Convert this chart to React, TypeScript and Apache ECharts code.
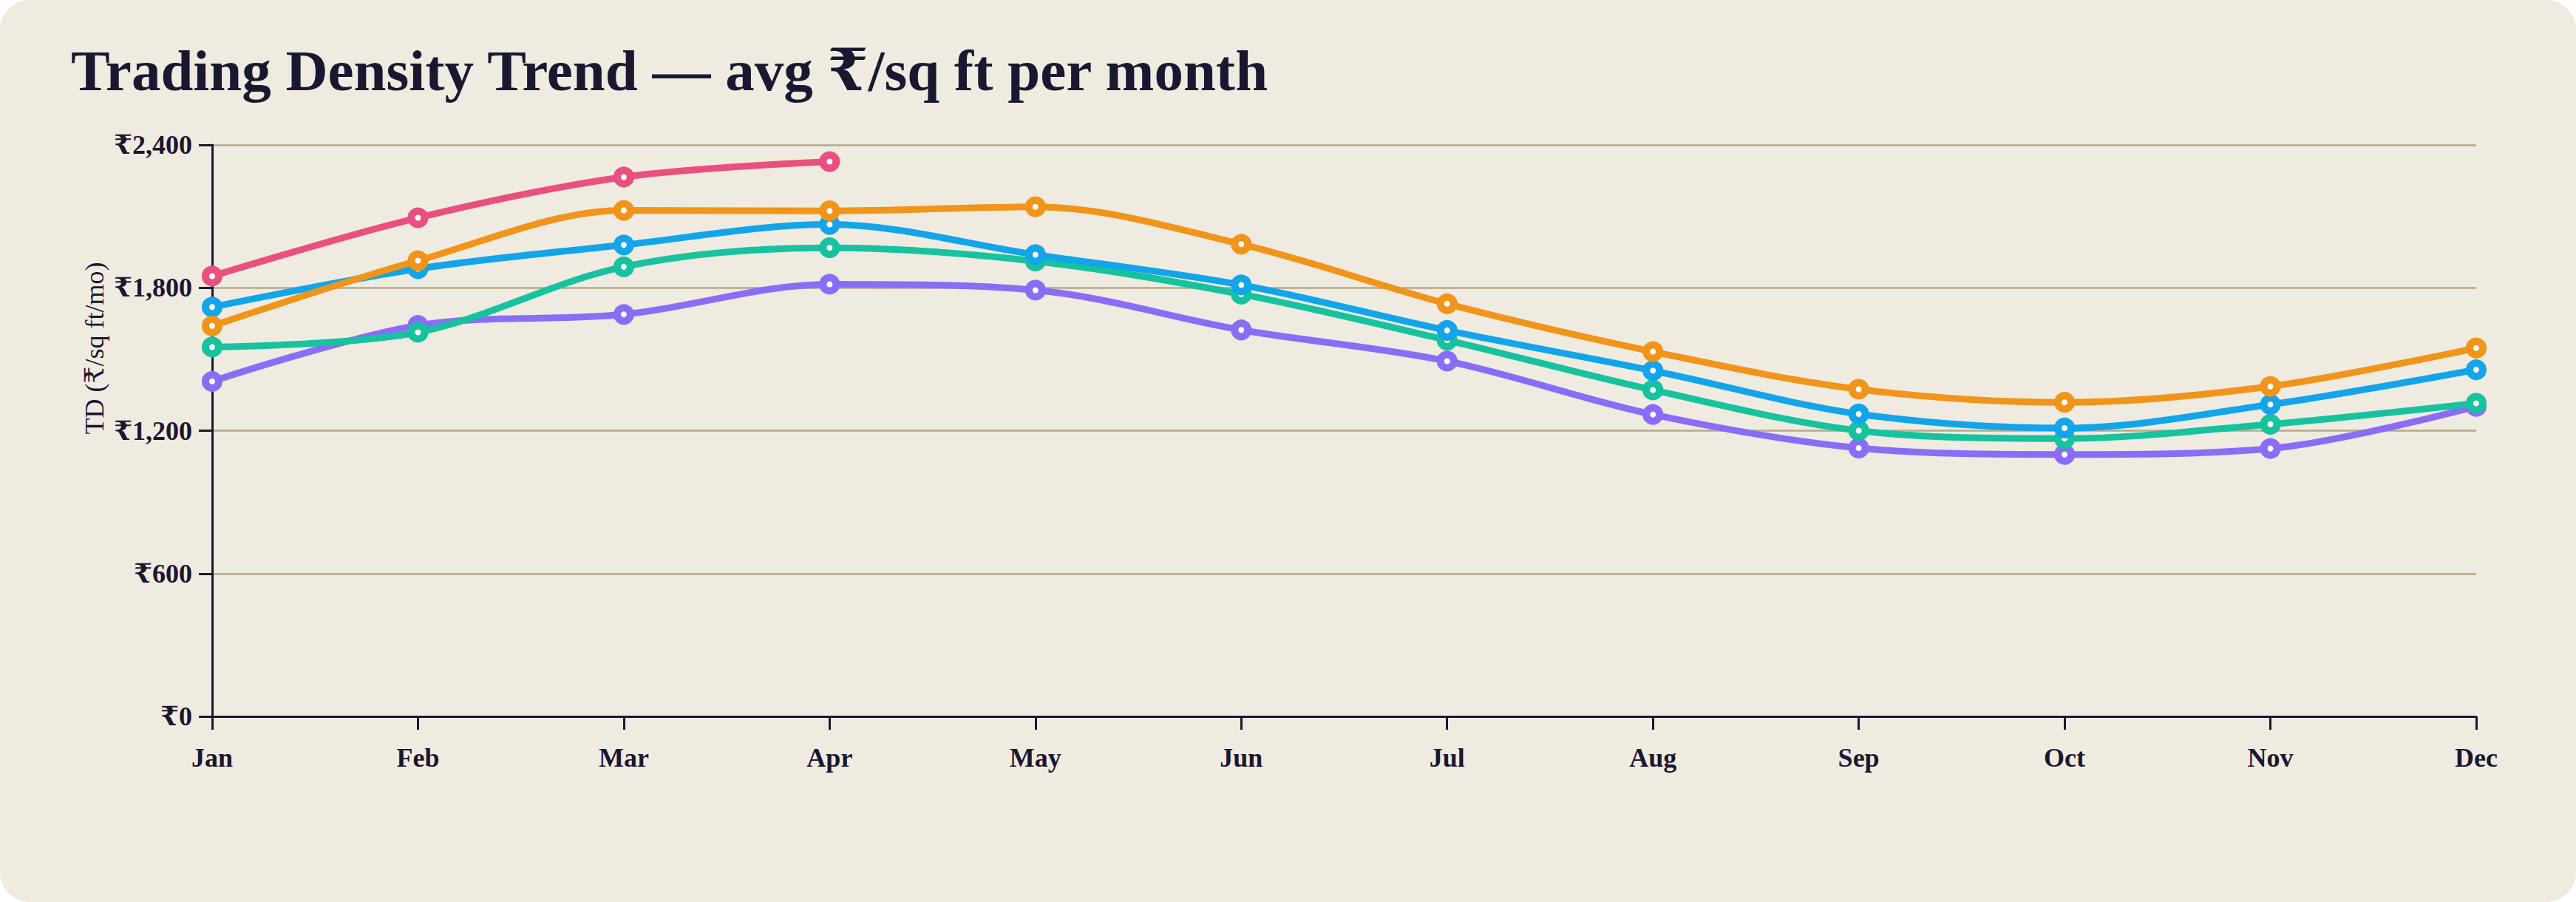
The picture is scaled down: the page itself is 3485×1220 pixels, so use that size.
import React, { useEffect, useRef } from "react";
import * as echarts from "echarts";

const months = ["Jan", "Feb", "Mar", "Apr", "May", "Jun", "Jul", "Aug", "Sep", "Oct", "Nov", "Dec"];
const yTicks = [0, 600, 1200, 1800, 2400];

const seriesNames = ["2021", "2022", "2023", "2024", "2025"];
const purpleValues = [1407, 1642, 1688, 1815, 1790, 1623, 1492, 1268, 1127, 1100, 1125, 1302];
const greenValues = [1551, 1613, 1888, 1968, 1912, 1773, 1580, 1371, 1200, 1167, 1227, 1315];
const blueValues = [1719, 1880, 1980, 2066, 1939, 1812, 1621, 1452, 1270, 1211, 1310, 1456];
const orangeValues = [1640, 1914, 2125, 2123, 2140, 1983, 1733, 1532, 1374, 1319, 1386, 1547];
const pinkValues = [1849, 2094, 2265, 2330, null, null, null, null, null, null, null, null];

const seriesValues = [purpleValues, greenValues, blueValues, orangeValues, pinkValues];
const seriesColors = ["#8B6CF6", "#17C29E", "#12A5EA", "#F0951A", "#E9507F"];

const TEXT = "#1B1730";
const FONT = "'Liberation Serif', 'DejaVu Serif', serif";

export default function App() {
  const ref = useRef<HTMLDivElement>(null);

  useEffect(() => {
    if (!ref.current) return;
    const chart = echarts.init(ref.current, null, { renderer: "svg" });
    chart.setOption({
      animation: false,
      backgroundColor: "transparent",
      textStyle: { fontFamily: FONT },
      grid: { left: 287, right: 135, top: 196, bottom: 251, containLabel: false },
      graphic: [
        {
          type: "text",
          left: 96,
          top: 56,
          style: {
            text: "Trading Density Trend — avg ₹/sq ft per month",
            font: `bold 79px ${FONT}`,
            fill: TEXT,
          },
        },
        {
          type: "text",
          x: 128,
          y: 471,
          rotation: Math.PI / 2,
          style: {
            text: "TD (₹/sq ft/mo)",
            font: `36px ${FONT}`,
            fill: TEXT,
            align: "center",
            verticalAlign: "middle",
          },
        },
      ],
      xAxis: {
        type: "category",
        data: months,
        boundaryGap: false,
        axisLine: { show: true, lineStyle: { color: TEXT, width: 3 } },
        axisTick: { show: true, alignWithLabel: true, interval: 0, length: 18, lineStyle: { color: TEXT, width: 3 } },
        axisLabel: {
          interval: 0,
          margin: 38,
          color: TEXT,
          fontFamily: FONT,
          fontWeight: "bold",
          fontSize: 36,
        },
        splitLine: { show: false },
      },
      yAxis: {
        type: "value",
        min: yTicks[0],
        max: yTicks[yTicks.length - 1],
        interval: 600,
        axisLine: { show: true, lineStyle: { color: TEXT, width: 3 } },
        axisTick: { show: true, length: 18, lineStyle: { color: TEXT, width: 3 } },
        axisLabel: {
          margin: 27,
          color: TEXT,
          fontFamily: FONT,
          fontWeight: "bold",
          fontSize: 36,
          formatter: (v: number) => "₹" + v.toLocaleString("en-US"),
        },
        splitLine: { show: true, lineStyle: { color: "#B5A98A", width: 2.5 } },
      },
      series: seriesValues.map((vals, i) => ({
        name: seriesNames[i],
        type: "line",
        data: vals,
        smooth: 0.33,
        connectNulls: false,
        symbol: "circle",
        symbolSize: 18,
        showSymbol: true,
        lineStyle: { color: seriesColors[i], width: 9 },
        itemStyle: { color: "#FFFFFF", borderColor: seriesColors[i], borderWidth: 10 },
        emphasis: { disabled: true },
        z: 2 + i,
      })),
    });
    return () => chart.dispose();
  }, []);

  return (
    <div style={{ position: "fixed", left: 0, top: 0, width: 3485, height: 1220, background: "#FFFFFF" }}>
      <div
        ref={ref}
        style={{ width: 3485, height: 1220, borderRadius: 40, background: "#F0EBE1", overflow: "hidden" }}
      />
    </div>
  );
}
